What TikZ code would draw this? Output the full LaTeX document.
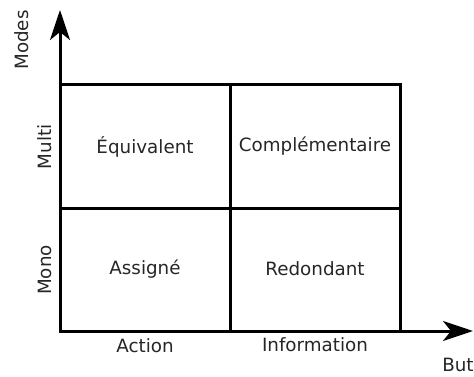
\documentclass[tikz,border=0pt]{standalone}
\usepackage{fontspec}
\setmainfont{DejaVu Sans}
\usetikzlibrary{arrows.meta}
\tikzset{
	axe/.style={line width=3pt,-{Stealth[length=30pt,width=20pt,inset=8pt]}},
	grille/.style={line width=3pt},
	etiq/.style={font=\fontsize{18.3}{21}\selectfont,text=black!85},
}
\begin{document}
\begin{tikzpicture}[x=1pt,y=1pt]
	\useasboundingbox (0,0) rectangle (474,376);
	\coordinate (O) at (60,45);
	\coordinate (haut) at (60,366);
	\coordinate (droite) at (473,45);
	% grille
	\draw [grille] (O) rectangle (400,292);
	\draw [grille] (230,45) -- (230,292);
	\draw [grille] (60,168) -- (400,168);
	% axes
	\draw [axe] (O) -- (haut);
	\draw [axe] (O) -- (droite);
	\node [etiq,rotate=90] (modes) at (22,336) {Modes};
	\node [etiq,rotate=90] (multi) at (45,229) {Multi};
	\node [etiq,rotate=90] (mono) at (45,106) {Mono};
	\node [etiq] (action) at (145,30) {Action};
	\node [etiq] (information) at (315,31) {Information};
	\node [etiq] (but) at (458,11) {But};
	% cases
	\node [etiq] (equivalent) at (145,229) {Équivalent};
	\node [etiq] (complementaire) at (315,230) {Complémentaire};
	\node [etiq] (assigne) at (145,107) {Assigné};
	\node [etiq] (redondant) at (315,107) {Redondant};
\end{tikzpicture}
\end{document}
